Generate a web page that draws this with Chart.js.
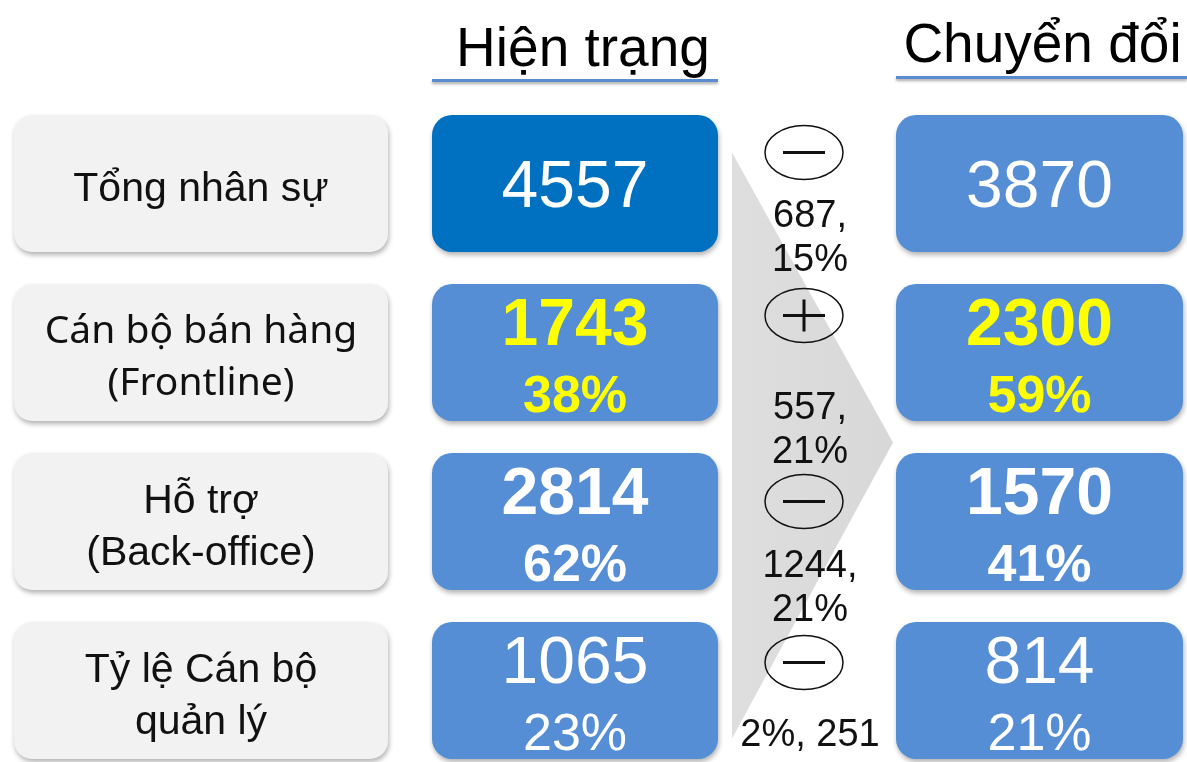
<!DOCTYPE html>
<html lang="vi">
<head>
<meta charset="utf-8">
<title>Hiện trạng - Chuyển đổi</title>
<script src="https://cdn.jsdelivr.net/npm/chart.js@4.4.1/dist/chart.umd.min.js"></script>
<style>
  html, body { margin: 0; padding: 0; background: #fff; overflow: hidden; }
  canvas { display: block; }
</style>
</head>
<body>
<canvas id="myChart" width="1187" height="775"></canvas>
<script>
// du lieu
const categories = [['Tổng nhân sự'], ['Cán bộ bán hàng', '(Frontline)'], ['Hỗ trợ', '(Back-office)'], ['Tỷ lệ Cán bộ', 'quản lý']];
const columnTitles = ['Hiện trạng', 'Chuyển đổi'];
const currentValues = [4557, 1743, 2814, 1065];
const currentShares = [null, 38, 62, 23];
const targetValues = [3870, 2300, 1570, 814];
const targetShares = [null, 59, 41, 21];
const changeSigns = ['-', '+', '-', '-'];
const changeLabels = [['687,', '15%'], ['557,', '21%'], ['1244,', '21%'], ['2%, 251']];

// bo cuc + kieu
const COLS = { label: [14, 388], current: [432, 718], target: [896, 1183] };
const MID_X = 808;
const signDy = [-31, -37, -20, -28];
const changeDy = [30, 53, 42, 42];
const currentColors = ['#0070C0', '#558ED5', '#558ED5', '#558ED5'];
const valueColors = ['#ffffff', '#ffff00', '#ffffff', '#ffffff'];
const valueBold = [false, true, true, false];
const ARIAL = '"Liberation Sans", Arial, sans-serif';

function drawText(ctx, str, x, cy, size, color, bold, family) {
  ctx.font = (bold ? 'bold ' : '') + size + 'px ' + (family || ARIAL);
  ctx.fillStyle = color;
  ctx.textAlign = 'center';
  ctx.textBaseline = 'alphabetic';
  ctx.fillText(str, x, cy + size * 0.358);
}

function drawValue(ctx, bar, i, value, share) {
  const cx = (bar.x + bar.base) / 2;
  if (share == null) {
    drawText(ctx, String(value), cx, bar.y, 66, valueColors[i], valueBold[i]);
  } else {
    drawText(ctx, String(value), cx, bar.y - 31, 66, valueColors[i], valueBold[i]);
    drawText(ctx, share + '%', cx, bar.y + 41, 52, valueColors[i], valueBold[i]);
  }
}

const infoPlugin = {
  id: 'info',
  beforeDatasetsDraw(chart) {
    const ctx = chart.ctx;
    const x = chart.scales.x, y = chart.scales.y;
    const top = chart.chartArea.top;

    // tieu de cot
    ctx.save();
    [COLS.current, COLS.target].forEach((c, k) => {
      const cx = (x.getPixelForValue(c[0]) + x.getPixelForValue(c[1])) / 2;
      ctx.font = '55px ' + ARIAL;
      ctx.fillStyle = '#000';
      ctx.textAlign = 'center';
      ctx.fillText(columnTitles[k], cx + (k ? 3 : 8), top - (k ? 37 : 33));
      ctx.save();
      ctx.shadowColor = 'rgba(0,0,0,0.35)';
      ctx.shadowBlur = 3;
      ctx.shadowOffsetY = 2;
      ctx.fillStyle = '#5B8BD0';
      ctx.fillRect(x.getPixelForValue(c[0]), top - (k ? 23 : 20), x.getPixelForValue(c[1]) - x.getPixelForValue(c[0]) + (k ? 4 : 0), 3);
      ctx.restore();
    });

    // mui ten xam
    const ax = x.getPixelForValue(732), tip = x.getPixelForValue(893);
    const aTop = y.getPixelForValue(0) - 31, aBot = y.getPixelForValue(3) + 48;
    const g = ctx.createLinearGradient(ax, 0, tip, 0);
    g.addColorStop(0, '#dedede');
    g.addColorStop(1, '#d8d8d8');
    ctx.fillStyle = g;
    ctx.beginPath();
    ctx.moveTo(ax, aTop);
    ctx.lineTo(tip, (aTop + aBot) / 2 - 3);
    ctx.lineTo(ax, aBot);
    ctx.closePath();
    ctx.fill();
    ctx.restore();
  },
  beforeDatasetDraw(chart) {
    const ctx = chart.ctx;
    ctx.save();
    ctx.shadowColor = 'rgba(0,0,0,0.3)';
    ctx.shadowBlur = 5;
    ctx.shadowOffsetX = 1;
    ctx.shadowOffsetY = 3;
  },
  afterDatasetDraw(chart) {
    chart.ctx.restore();
  },
  afterDatasetsDraw(chart) {
    const ctx = chart.ctx;
    ctx.save();
    const labelBars = chart.getDatasetMeta(0).data;
    const curBars = chart.getDatasetMeta(1).data;
    const tgtBars = chart.getDatasetMeta(2).data;

    categories.forEach((lines, i) => {
      const b = labelBars[i];
      const cx = (b.x + b.base) / 2;
      const fam = i === 1 ? '"Noto Sans", "Open Sans", sans-serif' : ARIAL;
      const size = i === 1 ? 39 : 41;
      if (lines.length === 1) {
        drawText(ctx, lines[0], cx, b.y + 3, size, '#111', false, fam);
      } else {
        drawText(ctx, lines[0], cx, b.y - 23, size, '#111', false, fam);
        drawText(ctx, lines[1], cx, b.y + 29, size, '#111', false, fam);
      }
      drawValue(ctx, curBars[i], i, currentValues[i], currentShares[i]);
      drawValue(ctx, tgtBars[i], i, targetValues[i], targetShares[i]);

      // dau cong / tru
      const mx = chart.scales.x.getPixelForValue(MID_X);
      const sy = b.y + signDy[i];
      ctx.strokeStyle = '#111';
      ctx.lineWidth = 1.5;
      ctx.beginPath();
      ctx.ellipse(mx - 4, sy, 39, 27, 0, 0, Math.PI * 2);
      ctx.stroke();
      ctx.lineWidth = 3;
      ctx.beginPath();
      ctx.moveTo(mx - 25, sy);
      ctx.lineTo(mx + 17, sy);
      if (changeSigns[i] === '+') {
        ctx.moveTo(mx - 4, sy - 16);
        ctx.lineTo(mx - 4, sy + 16);
      }
      ctx.stroke();

      changeLabels[i].forEach((t, k) => {
        drawText(ctx, t, mx + 2, b.y + changeDy[i] + k * 44, 38, '#111', false);
      });
    });
    ctx.restore();
  }
};

const ctx = document.getElementById('myChart').getContext('2d');
new Chart(ctx, {
  type: 'bar',
  data: {
    labels: categories.map(c => c.join(' ')),
    datasets: [
      {
        label: 'Chỉ tiêu',
        data: categories.map(() => COLS.label),
        backgroundColor: '#F2F2F2',
        borderRadius: 18
      },
      {
        label: columnTitles[0],
        data: currentValues.map(() => COLS.current),
        backgroundColor: currentColors,
        borderRadius: 20
      },
      {
        label: columnTitles[1],
        data: targetValues.map(() => COLS.target),
        backgroundColor: '#558ED5',
        borderRadius: 20
      }
    ]
  },
  options: {
    indexAxis: 'y',
    responsive: false,
    animation: false,
    layout: { padding: { top: 99, bottom: 0, left: 0, right: 0 } },
    datasets: {
      bar: {
        grouped: false,
        categoryPercentage: 1,
        barPercentage: 0.81,
        borderSkipped: false,
        borderWidth: 0
      }
    },
    scales: {
      x: { type: 'linear', min: 0, max: 1187, display: false },
      y: { display: false }
    },
    plugins: {
      legend: { display: false },
      tooltip: { enabled: false }
    }
  },
  plugins: [infoPlugin]
});
</script>
</body>
</html>
